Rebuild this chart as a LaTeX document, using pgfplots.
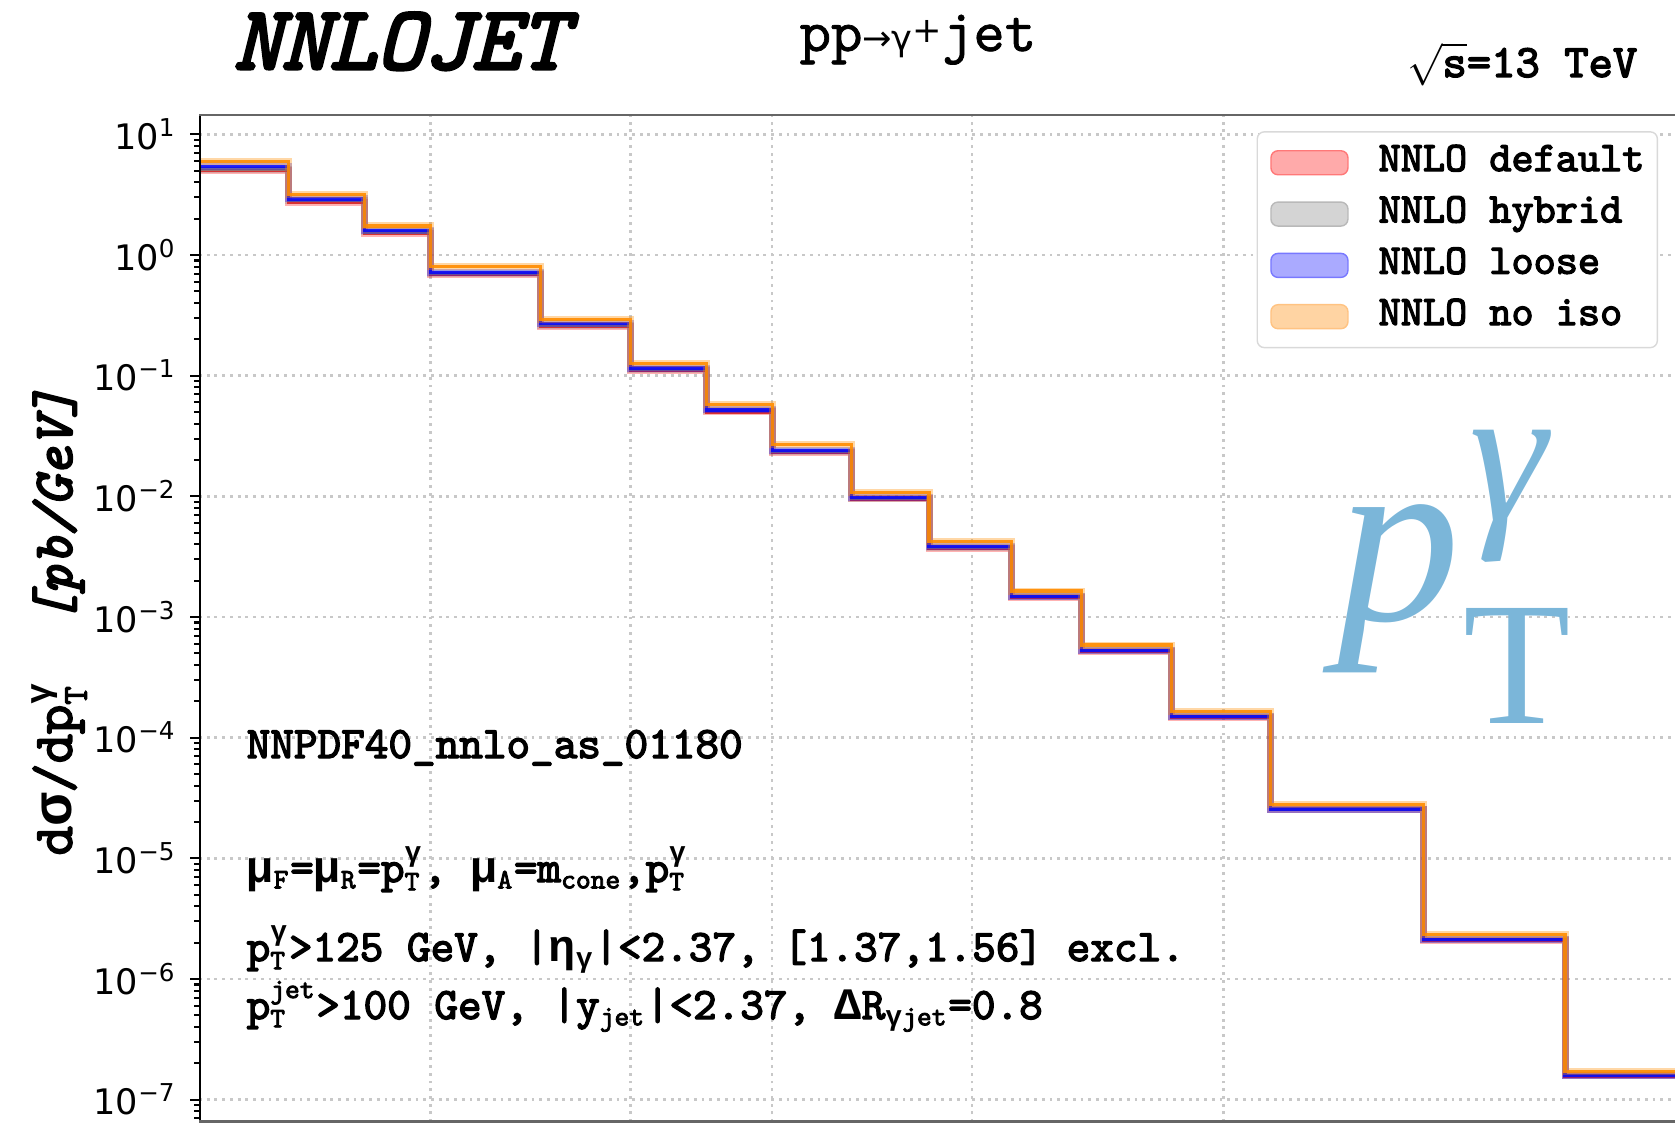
\documentclass[border=0pt]{standalone}
\usepackage{fontspec}
\usepackage{pgfplots}
\pgfplotsset{compat=1.18}
\usepackage{pgfplotstable}
\newfontfamily\grk{Liberation Mono}
\newfontfamily\dejavu{DejaVu Sans}
\newfontfamily\tnr{Liberation Serif}
\newfontfamily\tb{lmmono10-regular.otf}[FakeBold=3]
\newfontfamily\tbo{lmmono10-italic.otf}[FakeBold=3.5]
\newfontfamily\tm{lmmono10-regular.otf}[FakeBold=1.2]
\newcommand\G[1]{{\grk\bfseries #1}}
\definecolor{wm}{RGB}{123,182,217}
\definecolor{dorange}{RGB}{255,140,0}
\definecolor{gridc}{RGB}{200,200,200}
\newcommand\supsub[3]{\ensuremath{^{\hbox{\fontsize{#1}{#1}\selectfont #2}}_{\hbox{\fontsize{#1}{#1}\selectfont #3}}}}
\newcommand\sub[2]{\ensuremath{_{\hbox{\fontsize{#1}{#1}\selectfont #2}}}}

\pgfplotstableread{
x    def      hyb      loo      noi
125  4.97     5.15     5.39     5.93
150  2.74     2.82     2.91     3.19
175  1.51     1.55     1.59     1.74
200  0.684    0.700    0.720    0.800
250  0.255    0.262    0.269    0.294
300  0.110    0.113    0.1155   0.127
350  0.0500   0.0512   0.0519   0.0574
400  0.0232   0.0236   0.0239   0.0270
470  0.00950  0.00965  0.00975  0.0108
550  0.00372  0.00378  0.00381  0.00422
650  0.00146  0.00147  0.00148  0.00164
750  5.20e-4  5.25e-4  5.30e-4  5.85e-4
900  1.48e-4  1.49e-4  1.50e-4  1.64e-4
1100 2.53e-5  2.55e-5  2.56e-5  2.81e-5
1500 2.10e-6  2.11e-6  2.12e-6  2.33e-6
2000 1.57e-7  1.58e-7  1.58e-7  1.72e-7
2500 1.57e-7  1.58e-7  1.58e-7  1.72e-7
}\data

\begin{document}
\begin{tikzpicture}
\begin{axis}[
  at={(0,0)}, anchor=south west,
  scale only axis, width=14.76cm, height=10.08cm,
  xmode=log, ymode=log,
  xmin=125, xmax=2500, ymin=6.52e-8, ymax=14.72,
  axis line style={draw=none},
  xtick={200,300,400,600,1000}, xticklabels={}, minor xtick={},
  x tick style={draw=none},
  ytick={1e-7,1e-6,1e-5,1e-4,1e-3,1e-2,1e-1,1,10},
  yticklabels={10\textsuperscript{−7},10\textsuperscript{−6},10\textsuperscript{−5},10\textsuperscript{−4},10\textsuperscript{−3},10\textsuperscript{−2},10\textsuperscript{−1},10\textsuperscript{0},10\textsuperscript{1}},
  minor ytick={7e-8,8e-8,9e-8,
    2e-7,3e-7,4e-7,5e-7,6e-7,7e-7,8e-7,9e-7,
    2e-6,3e-6,4e-6,5e-6,6e-6,7e-6,8e-6,9e-6,
    2e-5,3e-5,4e-5,5e-5,6e-5,7e-5,8e-5,9e-5,
    2e-4,3e-4,4e-4,5e-4,6e-4,7e-4,8e-4,9e-4,
    2e-3,3e-3,4e-3,5e-3,6e-3,7e-3,8e-3,9e-3,
    2e-2,3e-2,4e-2,5e-2,6e-2,7e-2,8e-2,9e-2,
    0.2,0.3,0.4,0.5,0.6,0.7,0.8,0.9,
    2,3,4,5,6,7,8,9},
  ytick pos=left, tick align=outside,
  major tick length=0.09cm, minor tick length=0.05cm,
  y tick style={black, line width=0.6pt},
  yticklabel style={font=\dejavu\fontsize{10}{10}\selectfont, inner xsep=0.13cm},
  grid=major,
  major grid style={gridc, line width=0.7pt, dash pattern=on 0.8pt off 1.4pt},
  legend cell align=left,
  legend style={at={(0.9885,0.983)}, anchor=north east,
    draw=black!15, rounded corners=2pt, fill=white,
    font=\tb\fontsize{12}{13}\selectfont,
    inner xsep=0.13cm, inner ysep=0.15cm, row sep=0.195cm,
    nodes={inner sep=0pt, text height=1.6ex, text depth=0.5ex},
    /tikz/every odd column/.append style={column sep=0.30cm}},
]
% series: default (red)
\addplot[const plot, red, line width=2.0pt, opacity=0.3, forget plot] table[x=x,y=def]{\data};
\addplot[const plot, red, line width=0.9pt, opacity=0.9, forget plot] table[x=x,y=def]{\data};
% hybrid (gray)
\addplot[const plot, gray, line width=2.0pt, opacity=0.3, forget plot] table[x=x,y=hyb]{\data};
\addplot[const plot, gray, line width=0.9pt, opacity=0.8, forget plot] table[x=x,y=hyb]{\data};
% loose (blue)
\addplot[const plot, blue, line width=2.0pt, opacity=0.3, forget plot] table[x=x,y=loo]{\data};
\addplot[const plot, blue, line width=0.9pt, opacity=0.8, forget plot] table[x=x,y=loo]{\data};
% no iso (orange)
\addplot[const plot, dorange, line width=2.0pt, opacity=0.35, forget plot] table[x=x,y=noi]{\data};
\addplot[const plot, dorange, line width=0.9pt, opacity=0.9, forget plot] table[x=x,y=noi]{\data};

\addlegendimage{legend image code/.code={\fill[fill={rgb,255:red,255;green,170;blue,170}, draw={rgb,255:red,255;green,120;blue,120}, line width=0.4pt] (0cm,-0.12cm) rectangle (0.77cm,0.12cm);}}
\addlegendentry{NNLO default}
\addlegendimage{legend image code/.code={\fill[fill={rgb,255:red,212;green,212;blue,212}, draw={rgb,255:red,185;green,185;blue,185}, line width=0.4pt] (0cm,-0.12cm) rectangle (0.77cm,0.12cm);}}
\addlegendentry{NNLO hybrid}
\addlegendimage{legend image code/.code={\fill[fill={rgb,255:red,170;green,170;blue,255}, draw={rgb,255:red,120;green,120;blue,255}, line width=0.4pt] (0cm,-0.12cm) rectangle (0.77cm,0.12cm);}}
\addlegendentry{NNLO loose}
\addlegendimage{legend image code/.code={\fill[fill={rgb,255:red,255;green,212;blue,163}, draw={rgb,255:red,255;green,195;blue,130}, line width=0.4pt] (0cm,-0.12cm) rectangle (0.77cm,0.12cm);}}
\addlegendentry{NNLO no iso}

\draw[black, line width=0.9pt] (rel axis cs:0,0) -- (rel axis cs:0,1);
\draw[black!60, line width=1.0pt] (rel axis cs:0,1) -- (rel axis cs:1,1);
\draw[black!60, line width=1.0pt] (rel axis cs:0,0) -- (rel axis cs:1,0);
\end{axis}

% titles
\node[anchor=base west, inner sep=0, font=\tbo\fontsize{25.8}{27}\selectfont] at (0.34,10.53) {NNLOJET};
\node[anchor=base west, inner sep=0, font=\tm\fontsize{17}{18}\selectfont] at (6.0,10.71) {pp{\dejavu\fontsize{10}{10}\selectfont →γ\raisebox{0.45ex}{+}}jet};
\node[anchor=base east, inner sep=0, font=\tb\fontsize{13.2}{14}\selectfont] at (14.39,10.45) {$\sqrt{\hbox{\tb\fontsize{13.2}{14}\selectfont s}}$=13 TeV};

% y label
\node[rotate=90, anchor=center, inner sep=0, font=\tb\fontsize{15.9}{17}\selectfont] at (-1.40,5.0) {d\G{σ}/dp\supsub{10}{\G{γ}}{T}~~{\tbo [pb/GeV]}};

% annotations
\begin{scope}[every node/.style={anchor=base west, inner sep=0, font=\tb\fontsize{12.8}{14}\selectfont}]
\node at (0.47,3.64) {NNPDF40\_nnlo\_as\_01180};
\node at (0.47,2.40) {\G{μ}\sub{8}{F}=\G{μ}\sub{8}{R}=p\supsub{8}{\G{γ}}{T}, \G{μ}\sub{8}{A}=m\sub{8}{cone},p\supsub{8}{\G{γ}}{T}};
\node at (0.47,1.61) {p\supsub{8}{\G{γ}}{T}>125 GeV, |\G{η}\sub{8}{\G{γ}}|<2.37, [1.37,1.56] excl.};
\node at (0.47,1.03) {p\supsub{8}{jet}{T}>100 GeV, |y\sub{8}{jet}|<2.37, \G{Δ}R\sub{8}{\G{γ}jet}=0.8};
\end{scope}

% watermark
\node[anchor=base west, inner sep=0, text=wm, font=\tnr\itshape\fontsize{70}{70}\selectfont] at (11.38,5.02) {p};
\node[anchor=base west, inner sep=0, text=wm, font=\tnr\itshape\fontsize{56}{56}\selectfont] at (12.70,6.02) {γ};
\node[anchor=base west, inner sep=0, text=wm, font=\tnr\fontsize{50}{50}\selectfont] at (12.64,3.99) {T};

\pgfresetboundingbox
\path[use as bounding box] (-1.99,-0.03) rectangle (14.76,11.22);
\end{tikzpicture}
\end{document}
